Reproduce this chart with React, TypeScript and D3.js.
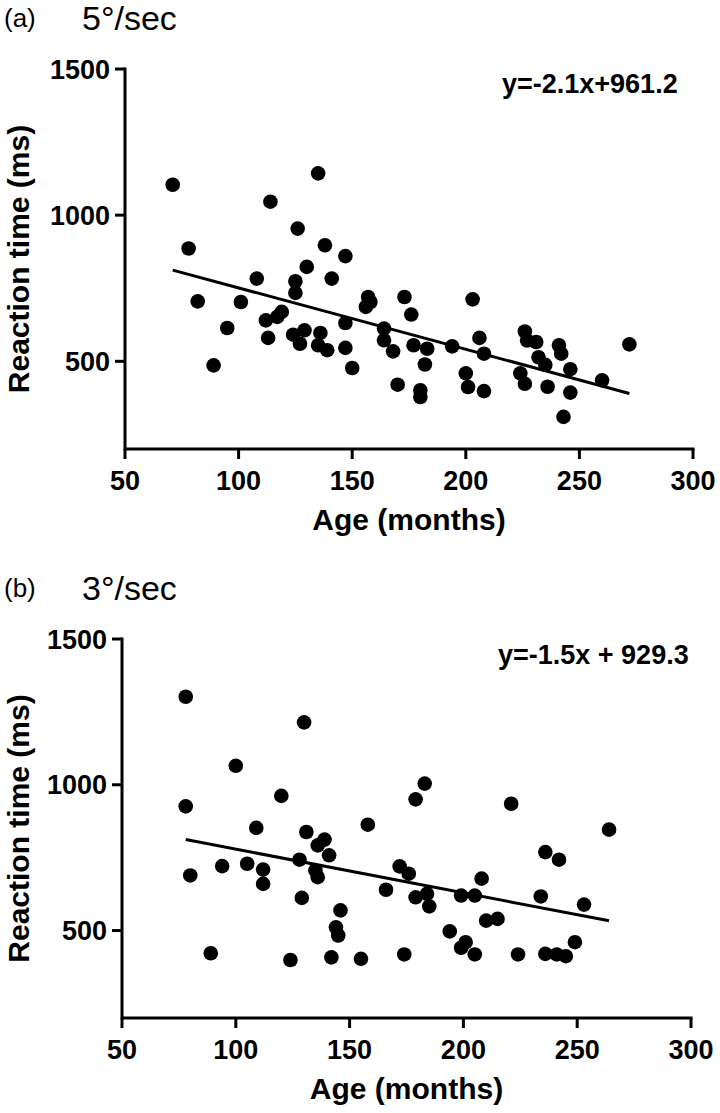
import React from "react";
import * as d3 from "d3";

// ---- Data ----
const xTickValues = [50, 100, 150, 200, 250, 300];
const yTickValues = [500, 1000, 1500];

const panelLabels = ["(a)", "(b)"];
const panelTitles = ["5°/sec", "3°/sec"];
const equations = ["y=-2.1x+961.2", "y=-1.5x + 929.3"];
const slopes = [-2.1, -1.5];
const intercepts = [961.2, 929.3];

const ageA = [71, 78, 82, 89, 95, 101, 108, 112, 113, 114, 117, 119, 124, 125, 125, 126, 127, 129, 130, 135, 135, 136, 138, 139, 141, 147, 147, 147, 150, 157, 158, 156, 164, 164, 168, 170, 173, 176, 177, 180, 180, 182, 183, 194, 200, 201, 203, 206, 208, 208, 224, 226, 227, 226, 231, 232, 235, 236, 241, 242, 243, 246, 246, 260, 272];
const rtA = [1104, 886, 705, 486, 614, 703, 783, 640, 580, 1046, 652, 669, 591, 774, 734, 954, 560, 606, 823, 1143, 555, 597, 897, 538, 783, 860, 631, 546, 477, 720, 703, 686, 612, 572, 534, 420, 720, 660, 555, 401, 378, 489, 543, 551, 459, 412, 712, 580, 526, 398, 459, 602, 571, 423, 566, 514, 488, 413, 555, 526, 310, 473, 393, 435, 558];

const ageB = [78, 130, 100, 183, 179, 120, 221, 78, 109, 131, 139, 136, 158, 264, 80, 94, 105, 112, 112, 128, 135, 136, 141, 129, 146, 144, 145, 89, 124, 142, 155, 174, 166, 172, 176, 179, 184, 185, 194, 199, 201, 199, 205, 205, 208, 210, 215, 224, 234, 236, 242, 236, 241, 245, 249, 253];
const rtB = [1302, 1214, 1065, 1004, 950, 962, 935, 926, 852, 838, 812, 792, 863, 846, 689, 721, 729, 709, 660, 743, 706, 683, 758, 612, 569, 511, 483, 422, 399, 408, 403, 418, 640, 720, 695, 614, 626, 583, 497, 620, 460, 441, 418, 620, 678, 534, 540, 418, 617, 769, 743, 420, 418, 412, 460, 589];

const ages = [ageA, ageB];
const rts = [rtA, rtB];

// ---- Layout ----
const W = 720;
const H = 1113;
const FONT = "'Liberation Sans', Arial, Helvetica, sans-serif";

type Layout = {
  left: number;
  right: number;
  top: number;
  bottom: number;
  titleY: number;
  eqX: number;
  eqY: number;
};

const layouts: Layout[] = [
  { left: 125, right: 693, top: 69, bottom: 449, titleY: 30, eqX: 502, eqY: 93 },
  { left: 122, right: 691, top: 639, bottom: 1018, titleY: 600, eqX: 498, eqY: 664 },
];

function Panel({ i }: { i: number }) {
  const L = layouts[i];
  const x = d3.scaleLinear().domain([50, 300]).range([L.left, L.right]);
  const y = d3.scaleLinear().domain([200, 1500]).range([L.bottom, L.top]);
  const xs = ages[i];
  const ys = rts[i];
  const [xmin, xmax] = d3.extent(xs) as [number, number];
  const fit = (v: number) => slopes[i] * v + intercepts[i];
  const line = d3
    .line<number>()
    .x((d) => x(d))
    .y((d) => y(fit(d)));
  const sw = 3;
  const tickLen = 10;
  return (
    <g>
      <text x={4} y={L.titleY - 3} fontFamily={FONT} fontSize={26} fill="#000">
        {panelLabels[i]}
      </text>
      <text x={82} y={L.titleY} fontFamily={FONT} fontSize={34} fill="#000">
        {panelTitles[i]}
      </text>
      {/* axes */}
      <line x1={L.left} x2={L.left} y1={y(1500) - sw / 2} y2={L.bottom + sw / 2} stroke="#000" strokeWidth={sw} />
      <line x1={L.left} x2={L.right + sw / 2} y1={L.bottom} y2={L.bottom} stroke="#000" strokeWidth={sw} />
      {xTickValues.map((t) => (
        <g key={"x" + t}>
          <line x1={x(t)} x2={x(t)} y1={L.bottom} y2={L.bottom + tickLen} stroke="#000" strokeWidth={sw} />
          <text
            x={x(t)}
            y={L.bottom + 41}
            textAnchor="middle"
            fontFamily={FONT}
            fontWeight="bold"
            fontSize={27}
            fill="#000"
          >
            {t}
          </text>
        </g>
      ))}
      {yTickValues.map((t) => (
        <g key={"y" + t}>
          <line x1={L.left - tickLen} x2={L.left} y1={y(t)} y2={y(t)} stroke="#000" strokeWidth={sw} />
          <text
            x={L.left - 15}
            y={y(t)}
            dy="0.36em"
            textAnchor="end"
            fontFamily={FONT}
            fontWeight="bold"
            fontSize={27}
            fill="#000"
          >
            {t}
          </text>
        </g>
      ))}
      <text
        x={(L.left + L.right) / 2}
        y={L.bottom + 81}
        textAnchor="middle"
        fontFamily={FONT}
        fontWeight="bold"
        fontSize={30}
        fill="#000"
      >
        Age (months)
      </text>
      <text
        transform={`translate(${29},${(L.top + L.bottom) / 2}) rotate(-90)`}
        textAnchor="middle"
        fontFamily={FONT}
        fontWeight="bold"
        fontSize={30}
        fill="#000"
      >
        Reaction time (ms)
      </text>
      {/* points */}
      {xs.map((a, k) => (
        <circle key={k} cx={x(a)} cy={y(ys[k])} r={7.3} fill="#000" />
      ))}
      {/* regression line */}
      <path d={line([xmin, xmax]) || ""} fill="none" stroke="#000" strokeWidth={3} />
      <text x={L.eqX} y={L.eqY} fontFamily={FONT} fontWeight="bold" fontSize={27} fill="#000">
        {equations[i]}
      </text>
    </g>
  );
}

export default function App() {
  return (
    <svg
      width={W}
      height={H}
      viewBox={`0 0 ${W} ${H}`}
      style={{ position: "absolute", left: 0, top: 0, background: "#fff" }}
    >
      <rect width={W} height={H} fill="#fff" />
      <Panel i={0} />
      <Panel i={1} />
    </svg>
  );
}
